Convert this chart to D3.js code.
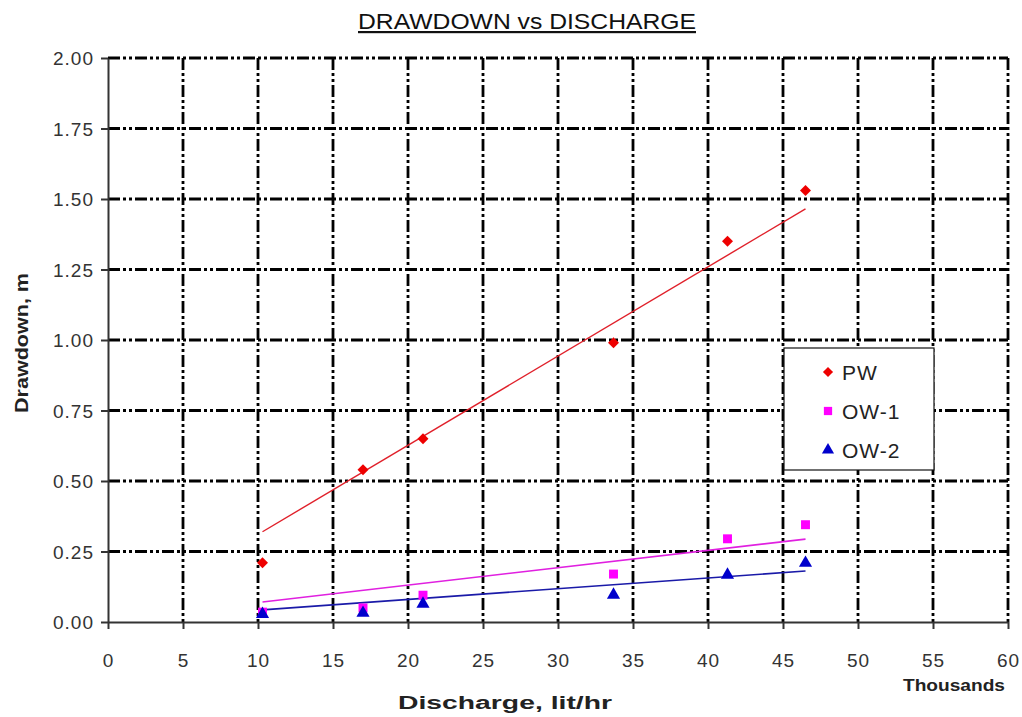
<!DOCTYPE html>
<html>
<head>
<meta charset="utf-8">
<script src="https://cdn.jsdelivr.net/npm/d3@7"></script>
<style>
  body { margin: 0; background: #fff; }
  text { font-family: Arial, "Liberation Sans", sans-serif; }
</style>
</head>
<body>
<script>
// discharge in thousands of lit/hr
var discharge = [10.3, 17.0, 21.0, 33.7, 41.3, 46.5];
var pw  = [0.21, 0.54, 0.65, 0.99, 1.35, 1.53];
var ow1 = [0.035, 0.05, 0.095, 0.17, 0.295, 0.345];
var ow2 = [0.028, 0.032, 0.064, 0.096, 0.167, 0.209];
// trendline ends (drawdown at first and last discharge)
var pwTrend  = [0.32, 1.465];
var ow1Trend = [0.071, 0.294];
var ow2Trend = [0.043, 0.181];

var xTicks = [0, 5, 10, 15, 20, 25, 30, 35, 40, 45, 50, 55, 60];
var yTicks = [0, 0.25, 0.5, 0.75, 1.0, 1.25, 1.5, 1.75, 2.0];

var svg = d3.select("body").append("svg")
    .attr("width", 1022)
    .attr("height", 717);

var x = d3.scaleLinear().domain([0, 60]).range([108, 1008]);
var y = d3.scaleLinear().domain([0, 2]).range([622, 58]);

// grid
var dash = "12,3,3,3,3,3";
svg.selectAll("line.hgrid")
    .data(yTicks.filter(function(d){ return d > 0; }))
    .enter().append("line")
    .attr("x1", x(0)).attr("x2", x(60))
    .attr("y1", function(d){ return y(d); })
    .attr("y2", function(d){ return y(d); })
    .attr("stroke", "#000").attr("stroke-width", 2.8)
    .attr("stroke-dasharray", dash);

svg.selectAll("line.vgrid")
    .data(xTicks.filter(function(d){ return d > 0; }))
    .enter().append("line")
    .attr("y1", y(2)).attr("y2", y(0))
    .attr("x1", function(d){ return x(d); })
    .attr("x2", function(d){ return x(d); })
    .attr("stroke", "#000").attr("stroke-width", 2.8)
    .attr("stroke-dasharray", dash);

// axes
var xAxis = d3.axisBottom(x).tickValues(xTicks).tickSize(7).tickSizeOuter(0)
    .tickFormat(d3.format("d"));
var yAxis = d3.axisLeft(y).tickValues(yTicks).tickSize(7).tickSizeOuter(0)
    .tickFormat(d3.format(".2f"));

var gx = svg.append("g").attr("transform", "translate(0," + y(0) + ")").call(xAxis);
var gy = svg.append("g").attr("transform", "translate(" + x(0) + ",0)").call(yAxis);

[gx, gy].forEach(function(g){
    g.select(".domain").attr("stroke", "#333").attr("stroke-width", 2);
    g.selectAll(".tick line").attr("stroke", "#333").attr("stroke-width", 2);
    g.selectAll(".tick text")
        .attr("fill", "#333")
        .style("font-size", "19px")
        .style("letter-spacing", "1px")
        .style("font-family", "Arial, 'Liberation Sans', sans-serif");
});
gx.selectAll(".tick text").attr("dy", null).attr("y", 45);
gy.selectAll(".tick text").attr("x", -14).attr("dy", "0.36em");

// trendlines
function trend(vals, color, w) {
    svg.append("line")
        .attr("x1", x(d3.min(discharge))).attr("y1", y(vals[0]))
        .attr("x2", x(d3.max(discharge))).attr("y2", y(vals[1]))
        .attr("stroke", color).attr("stroke-width", w);
}
trend(pwTrend, "#e0202a", 1.4);
trend(ow1Trend, "#e020e0", 1.6);
trend(ow2Trend, "#1a1aa8", 1.6);

// markers (diamond = rotated square)
var series = [
    {vals: pw,  sym: d3.symbolSquare,   size: 60, rot: 45, color: "#ee0000"},
    {vals: ow1, sym: d3.symbolSquare,   size: 80, rot: 0,  color: "#ff00ff"},
    {vals: ow2, sym: d3.symbolTriangle, size: 75, rot: 0,  color: "#0000cc"}
];
series.forEach(function(s){
    svg.append("g").selectAll("path")
        .data(s.vals)
        .enter().append("path")
        .attr("d", d3.symbol().type(s.sym).size(s.size))
        .attr("transform", function(d, i){
            return "translate(" + x(discharge[i]) + "," + y(d) + ") rotate(" + s.rot + ")";
        })
        .attr("fill", s.color);
});

// legend
var legendNames = ["PW", "OW-1", "OW-2"];
var lg = svg.append("g").attr("transform", "translate(784,348)");
lg.append("rect").attr("width", 150).attr("height", 122)
    .attr("fill", "#fff").attr("stroke", "#111").attr("stroke-width", 1.2);
legendNames.forEach(function(name, i){
    var s = series[i];
    var row = lg.append("g").attr("transform", "translate(44," + (24 + i * 39) + ")");
    row.append("path")
        .attr("d", d3.symbol().type(s.sym).size(s.size * 0.85))
        .attr("transform", "rotate(" + s.rot + ")")
        .attr("fill", s.color);
    row.append("text").attr("x", 14).attr("dy", "0.36em")
        .style("font-size", "21px").style("letter-spacing", "1px")
        .attr("fill", "#222").text(name);
});

// titles
svg.append("text")
    .attr("x", 527).attr("y", 29)
    .attr("text-anchor", "middle")
    .attr("textLength", 338).attr("lengthAdjust", "spacingAndGlyphs")
    .style("font-size", "22px")
    .style("text-decoration", "underline")
    .attr("fill", "#111")
    .text("DRAWDOWN vs DISCHARGE");

svg.append("text")
    .attr("x", 505).attr("y", 709)
    .attr("text-anchor", "middle")
    .attr("textLength", 214).attr("lengthAdjust", "spacingAndGlyphs")
    .style("font-size", "18px").style("font-weight", "bold")
    .attr("fill", "#222")
    .text("Discharge, lit/hr");

svg.append("text")
    .attr("x", 954).attr("y", 691)
    .attr("text-anchor", "middle")
    .attr("textLength", 102).attr("lengthAdjust", "spacingAndGlyphs")
    .style("font-size", "17px").style("font-weight", "bold")
    .attr("fill", "#222")
    .text("Thousands");

svg.append("text")
    .attr("transform", "translate(28,343) rotate(-90)")
    .attr("text-anchor", "middle")
    .attr("textLength", 140).attr("lengthAdjust", "spacingAndGlyphs")
    .style("font-size", "18px").style("font-weight", "bold")
    .attr("fill", "#222")
    .text("Drawdown,  m");
</script>
</body>
</html>
